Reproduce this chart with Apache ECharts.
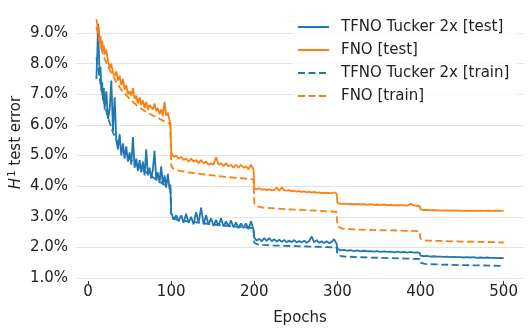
<!DOCTYPE html>
<html>
<head>
<meta charset="utf-8">
<script src="https://cdn.jsdelivr.net/npm/echarts@6/dist/echarts.min.js"></script>
<style>
  html, body { margin: 0; padding: 0; background: #fff; }
  #chart { width: 530px; height: 332px; }
</style>
</head>
<body>
<div id="chart"></div>
<script>
// epochs shared by both test curves
var testEpochs = [
  10,11,12,13,14,15,16,17,18,19,20,22,24,26,28,30,32,34,36,38,40,42,44,46,48,50,
  52,54,56,58,60,62,64,66,68,70,72,74,76,78,80,82,84,86,88,90,92,94,96,98,99,
  100,103,106,109,112,115,118,121,124,127,130,133,136,139,142,145,148,151,154,157,
  160,163,166,169,172,175,178,181,184,187,190,193,196,199,
  200,203,206,209,212,215,218,221,224,227,230,233,236,239,242,245,248,251,254,257,
  260,263,266,269,272,275,278,281,284,287,290,293,296,299,
  300,304,308,312,316,320,324,328,332,336,340,344,348,352,356,360,364,368,372,376,
  380,384,388,392,396,399,
  400,404,408,412,416,420,424,428,432,436,440,444,448,452,456,460,464,468,472,476,
  480,484,488,492,496,500
];

var tfnoTest = [
  7.5,8.2,9.3,8.4,7.6,7.9,7.1,7.4,6.8,7.2,6.5,7.1,6.2,6.5,7.45,5.8,6.9,5.5,5.2,5.7,
  5.0,5.4,4.9,5.3,4.8,5.1,4.7,5.6,4.6,4.9,4.5,4.85,4.45,4.8,4.35,5.2,4.35,4.6,4.25,
  4.55,5.15,4.2,4.45,4.1,4.65,4.05,4.35,3.95,4.4,3.9,4.05,
  3.15,2.9,3.05,2.85,3.05,2.8,3.1,2.8,3.0,2.75,3.15,2.8,3.3,2.75,3.05,2.75,2.95,2.7,2.9,
  2.7,2.95,2.68,2.85,2.68,2.88,2.65,2.82,2.63,2.78,2.63,2.78,2.6,2.85,2.58,
  2.32,2.22,2.28,2.2,2.3,2.21,2.3,2.2,2.27,2.19,2.25,2.18,2.24,2.17,2.22,2.17,2.24,
  2.16,2.21,2.16,2.22,2.15,2.2,2.36,2.16,2.24,2.15,2.2,2.14,2.2,2.14,2.18,2.27,2.12,
  1.95,1.9,1.92,1.89,1.91,1.88,1.9,1.87,1.89,1.87,1.88,1.86,1.88,1.85,1.87,1.85,1.86,
  1.84,1.86,1.84,1.85,1.83,1.85,1.83,1.84,1.82,
  1.73,1.71,1.72,1.7,1.71,1.7,1.7,1.69,1.7,1.68,1.69,1.68,1.68,1.67,1.68,1.67,1.68,
  1.66,1.67,1.66,1.67,1.66,1.66,1.65,1.66,1.65
];

var fnoTest = [
  9.45,9.3,9.05,9.2,8.7,8.9,8.5,8.75,8.4,8.6,8.3,8.45,8.1,7.85,8.0,7.7,7.6,7.75,7.45,
  7.6,7.3,7.5,7.15,7.3,7.0,7.1,6.95,7.2,6.85,6.95,6.7,6.9,6.65,6.8,6.55,6.75,6.5,6.65,
  6.6,6.5,6.7,6.45,6.55,6.35,6.5,6.3,6.75,6.3,6.4,6.15,6.05,
  5.1,4.95,5.0,4.9,4.95,4.85,4.9,4.8,4.9,4.8,4.85,4.75,4.85,4.75,4.8,4.7,4.75,4.7,4.95,
  4.7,4.75,4.65,4.75,4.65,4.7,4.6,4.7,4.6,4.7,4.6,4.65,4.55,4.7,4.55,
  3.92,3.9,3.93,3.88,3.9,3.87,3.9,3.86,3.88,3.95,3.85,3.96,3.86,3.85,3.87,3.83,3.85,
  3.82,3.84,3.81,3.83,3.8,3.82,3.79,3.81,3.78,3.8,3.77,3.79,3.77,3.78,3.76,3.8,3.76,
  3.45,3.42,3.43,3.41,3.42,3.4,3.42,3.4,3.41,3.39,3.41,3.39,3.4,3.38,3.4,3.38,3.39,
  3.37,3.38,3.37,3.38,3.36,3.42,3.37,3.36,3.35,
  3.24,3.22,3.22,3.21,3.22,3.21,3.21,3.2,3.21,3.2,3.21,3.2,3.2,3.19,3.2,3.19,3.2,
  3.19,3.2,3.19,3.2,3.19,3.19,3.2,3.19,3.19
];

// train curves are smooth, fewer points
var trainEpochs = [
  10,12,14,16,18,20,25,30,35,40,50,60,70,80,90,99,
  100,101,105,110,120,135,150,165,180,199,
  200,201,205,210,225,250,275,299,
  300,301,305,310,325,350,375,399,
  400,401,405,410,425,450,475,500
];

var tfnoTrain = [
  8.2,7.9,7.5,7.2,6.9,6.65,6.15,5.75,5.45,5.2,4.9,4.65,4.45,4.25,4.08,3.95,
  3.05,2.97,2.92,2.89,2.85,2.8,2.75,2.71,2.67,2.63,
  2.15,2.11,2.09,2.08,2.06,2.04,2.02,2.0,
  1.76,1.73,1.71,1.7,1.68,1.66,1.64,1.62,
  1.5,1.47,1.46,1.45,1.44,1.42,1.41,1.39
];

var fnoTrain = [
  9.2,8.95,8.7,8.5,8.3,8.15,7.85,7.6,7.35,7.15,6.85,6.6,6.42,6.28,6.14,6.02,
  4.7,4.6,4.55,4.5,4.45,4.4,4.35,4.3,4.27,4.22,
  3.45,3.38,3.33,3.3,3.27,3.23,3.2,3.16,
  2.7,2.65,2.62,2.6,2.58,2.56,2.55,2.53,
  2.28,2.25,2.23,2.22,2.21,2.19,2.18,2.16
];

var xTicks = [0, 100, 200, 300, 400, 500];
var seriesNames = ['TFNO Tucker 2x [test]', 'FNO [test]', 'TFNO Tucker 2x [train]', 'FNO [train]'];

var BLUE = '#1f77b4', ORANGE = '#ff7f0e';
var FONT = 'DejaVu Sans';
var FS = 15;

function pairs(xs, ys) {
  return xs.map(function (x, i) { return [x, ys[i]]; });
}

function line(name, data, color, dashed) {
  return {
    name: name,
    type: 'line',
    data: data,
    symbol: 'none',
    animation: false,
    lineStyle: { color: color, width: 1.8, type: dashed ? [7, 3.5] : 'solid' },
    itemStyle: { color: color }
  };
}

var chart = echarts.init(document.getElementById('chart'));
chart.setOption({
  backgroundColor: '#fff',
  animation: false,
  textStyle: { fontFamily: FONT },
  grid: { left: 76, right: 6, top: 7, bottom: 54, outerBoundsMode: 'none', containLabel: false },
  legend: {
    orient: 'vertical',
    left: 292,
    top: 14,
    padding: [5, 8, 6, 5],
    itemWidth: 31,
    itemHeight: 14,
    itemGap: 7,
    backgroundColor: 'rgba(255,255,255,0.8)',
    itemStyle: { opacity: 0 },
    textStyle: { fontFamily: FONT, fontSize: FS, color: '#222', lineHeight: 16, padding: [0, 0, 0, 7] },
    data: seriesNames
  },
  xAxis: {
    type: 'value',
    min: -14.5,
    max: 524.5,
    offset: 3,
    name: 'Epochs',
    nameLocation: 'middle',
    nameGap: 30,
    nameMoveOverlap: false,
    nameTextStyle: { fontFamily: FONT, fontSize: FS, color: '#222' },
    axisLine: { show: false },
    axisTick: { show: true, length: 4, customValues: xTicks, lineStyle: { color: '#333', width: 1 } },
    axisLabel: { customValues: xTicks, margin: 4, fontFamily: FONT, fontSize: FS, color: '#222' },
    splitLine: { show: false }
  },
  yAxis: {
    type: 'value',
    min: 1,
    max: 9.85,
    interval: 1,
    name: '{it|H}{sup|1} test error',
    nameLocation: 'middle',
    nameGap: 50,
    nameMoveOverlap: false,
    nameTextStyle: {
      fontFamily: FONT, fontSize: FS, color: '#222',
      rich: {
        it: { fontFamily: FONT, fontSize: FS, fontStyle: 'italic', color: '#222' },
        sup: { fontFamily: FONT, fontSize: 10, color: '#222', padding: [0, 0, 9, 1] }
      }
    },
    axisLine: { show: false },
    axisTick: { show: false },
    axisLabel: {
      margin: 8, fontFamily: FONT, fontSize: FS, color: '#222', showMaxLabel: false,
      formatter: function (v) { return v.toFixed(1) + '%'; }
    },
    splitLine: { show: true, showMaxLine: false, lineStyle: { color: '#e3e3e3', width: 1 } }
  },
  series: [
    line(seriesNames[0], pairs(testEpochs, tfnoTest), BLUE, false),
    line(seriesNames[1], pairs(testEpochs, fnoTest), ORANGE, false),
    line(seriesNames[2], pairs(trainEpochs, tfnoTrain), BLUE, true),
    line(seriesNames[3], pairs(trainEpochs, fnoTrain), ORANGE, true)
  ]
});
</script>
</body>
</html>
